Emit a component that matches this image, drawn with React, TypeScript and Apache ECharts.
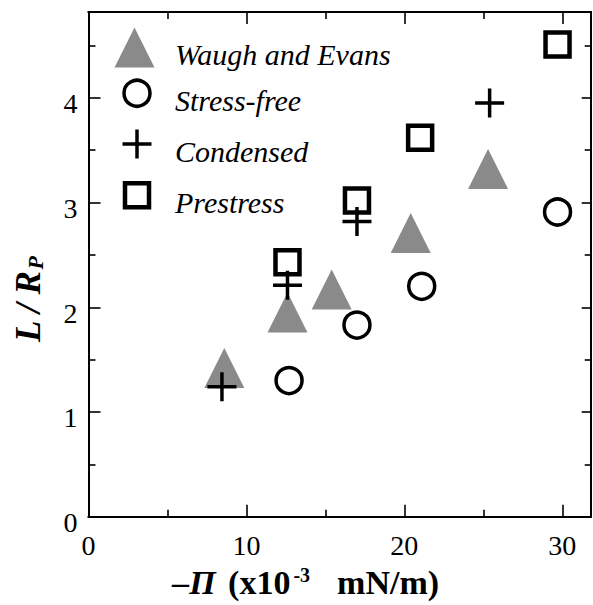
import React, { useEffect, useRef } from 'react';
import * as echarts from 'echarts';

// ---- data ----
const xMajorTicks = [0, 10, 20, 30];
const xMinorTicks = [5, 15, 25];
const yMajorTicks = [0, 1, 2, 3, 4];
const yMinorTicks = [0.5, 1.5, 2.5, 3.5, 4.5];

const seriesNames = ['Waugh and Evans', 'Stress-free', 'Condensed', 'Prestress'];

const waughX = [8.6, 12.6, 15.4, 20.4, 25.3];
const waughY = [1.42, 1.95, 2.17, 2.71, 3.32];

const stressFreeX = [12.7, 17.0, 21.1, 29.7];
const stressFreeY = [1.3, 1.83, 2.2, 2.91];

const condensedX = [8.45, 12.6, 17.0, 25.4];
const condensedY = [1.24, 2.21, 2.82, 3.95];

const prestressX = [12.6, 17.0, 21.0, 29.7];
const prestressY = [2.43, 3.02, 3.62, 4.51];

const X_MIN = 0;
const X_MAX = 31.8;
const Y_MIN = 0;
const Y_MAX = 4.82;

const SERIF = "'Liberation Serif', 'Times New Roman', serif";
const PLUS_PATH = 'path://M44,0H56V100H44Z M0,44H100V56H0Z';

const zip = (xs: number[], ys: number[]) => xs.map((x, i) => [x, ys[i]]);

function xAxis(position: 'bottom' | 'top', ticks: number[], len: number, labels: boolean, extra: any = {}) {
  return {
    type: 'value',
    position,
    min: X_MIN,
    max: X_MAX,
    axisLine: { show: true, onZero: false, lineStyle: { color: '#000', width: 2 } },
    axisTick: { show: true, inside: true, length: len, customValues: ticks, lineStyle: { color: '#000', width: 1.6 } },
    axisLabel: labels
      ? { show: true, customValues: ticks, fontFamily: SERIF, fontSize: 28, color: '#000', margin: 15 }
      : { show: false },
    splitLine: { show: false },
    ...extra,
  };
}

function yAxis(position: 'left' | 'right', ticks: number[], len: number, labels: boolean, extra: any = {}) {
  return {
    type: 'value',
    position,
    min: Y_MIN,
    max: Y_MAX,
    axisLine: { show: true, onZero: false, lineStyle: { color: '#000', width: 2 } },
    axisTick: { show: true, inside: true, length: len, customValues: ticks, lineStyle: { color: '#000', width: 1.6 } },
    axisLabel: labels
      ? {
          show: true,
          customValues: ticks,
          margin: 11,
          formatter: (v: number) => `{v|${v}}`,
          rich: { v: { fontFamily: SERIF, fontSize: 28, color: '#000', padding: [12, 0, 0, 0] } },
        }
      : { show: false },
    splitLine: { show: false },
    ...extra,
  };
}

function legendItem(
  name: string,
  icon: string,
  itemStyle: any,
  size: number,
  left: number,
  top: number,
  gap: number,
) {
  return {
    data: [{ name, icon, itemStyle }],
    left,
    top,
    itemWidth: size,
    itemHeight: size,
    symbolKeepAspect: true,
    padding: 0,
    selectedMode: false,
    formatter: (n: string) => `{t|${n}}`,
    textStyle: {
      rich: {
        t: {
          fontFamily: SERIF,
          fontSize: 30,
          fontStyle: 'italic',
          color: '#000',
          padding: [14, 0, 0, gap],
        },
      },
    },
  };
}

export default function App() {
  const ref = useRef<HTMLDivElement>(null);
  useEffect(() => {
    const chart = echarts.init(ref.current!, null, { renderer: 'svg' });
    const option: any = {
      animation: false,
      backgroundColor: '#fff',
      grid: { left: 88.5, right: 2.3, top: 12, bottom: 88.3, containLabel: false },
      xAxis: [
        xAxis('bottom', xMajorTicks, 12, true, {
          name: '{i|–Π}{b| (x10}{s|-3}{b|  mN/m)}',
          nameLocation: 'middle',
          nameGap: 46,
          nameTextStyle: {
            padding: [0, 68, 0, 0],
            rich: {
              i: { fontFamily: SERIF, fontSize: 34, fontWeight: 'bold', fontStyle: 'italic', color: '#000', padding: [0, 4, 0, 0] },
              b: { fontFamily: SERIF, fontSize: 34, fontWeight: 'bold', color: '#000' },
              s: { fontFamily: SERIF, fontSize: 20, fontWeight: 'bold', color: '#000', padding: [0, 10, 16, 3] },
            },
          },
        }),
        xAxis('bottom', xMinorTicks, 7, false),
        xAxis('top', xMajorTicks, 12, false),
        xAxis('top', xMinorTicks, 7, false),
      ],
      yAxis: [
        yAxis('left', yMajorTicks, 12, true, {
          name: '{a|L / R}{s|P}',
          nameLocation: 'middle',
          nameGap: 42,
          nameTextStyle: {
            padding: [0, 70, 0, 0],
            rich: {
              a: { fontFamily: SERIF, fontSize: 35, fontWeight: 'bold', fontStyle: 'italic', color: '#000' },
              s: { fontFamily: SERIF, fontSize: 22, fontWeight: 'bold', fontStyle: 'italic', color: '#000', padding: [14, 0, 0, 1] },
            },
          },
        }),
        yAxis('left', yMinorTicks, 7, false),
        yAxis('right', yMajorTicks, 9, false),
        yAxis('right', yMinorTicks, 6, false),
      ],
      legend: [
        legendItem(seriesNames[0], 'triangle', { color: '#8a8a8a', borderWidth: 0 }, 40, 114.5, 27.5, 15.5),
        legendItem(seriesNames[1], 'circle', { color: 'transparent', borderColor: '#000', borderWidth: 3.5 }, 26, 122.25, 78.5, 20),
        legendItem(seriesNames[2], PLUS_PATH, { color: '#000', borderWidth: 0 }, 29, 122.5, 129.5, 18.5),
        legendItem(seriesNames[3], 'rect', { color: 'transparent', borderColor: '#000', borderWidth: 4.5 }, 24, 122.75, 181, 21),
      ],
      series: [
        {
          name: seriesNames[0],
          type: 'scatter',
          symbol: 'triangle',
          symbolSize: [40, 40],
          itemStyle: { color: '#8a8a8a', opacity: 1 },
          data: zip(waughX, waughY),
          z: 2,
        },
        {
          name: seriesNames[1],
          type: 'scatter',
          symbol: 'circle',
          symbolSize: 26,
          itemStyle: { color: 'transparent', borderColor: '#000', borderWidth: 3.5, opacity: 1 },
          data: zip(stressFreeX, stressFreeY),
          z: 3,
        },
        {
          name: seriesNames[2],
          type: 'scatter',
          symbol: PLUS_PATH,
          symbolSize: 29,
          itemStyle: { color: '#000', opacity: 1 },
          data: zip(condensedX, condensedY),
          z: 4,
        },
        {
          name: seriesNames[3],
          type: 'scatter',
          symbol: 'rect',
          symbolSize: 24,
          itemStyle: { color: 'transparent', borderColor: '#000', borderWidth: 4.5, opacity: 1 },
          data: zip(prestressX, prestressY),
          z: 5,
        },
      ],
    };
    chart.setOption(option);
    return () => chart.dispose();
  }, []);
  return (
    <div
      ref={ref}
      style={{ position: 'fixed', left: 0, top: 0, width: 593, height: 605, background: '#fff' }}
    />
  );
}
